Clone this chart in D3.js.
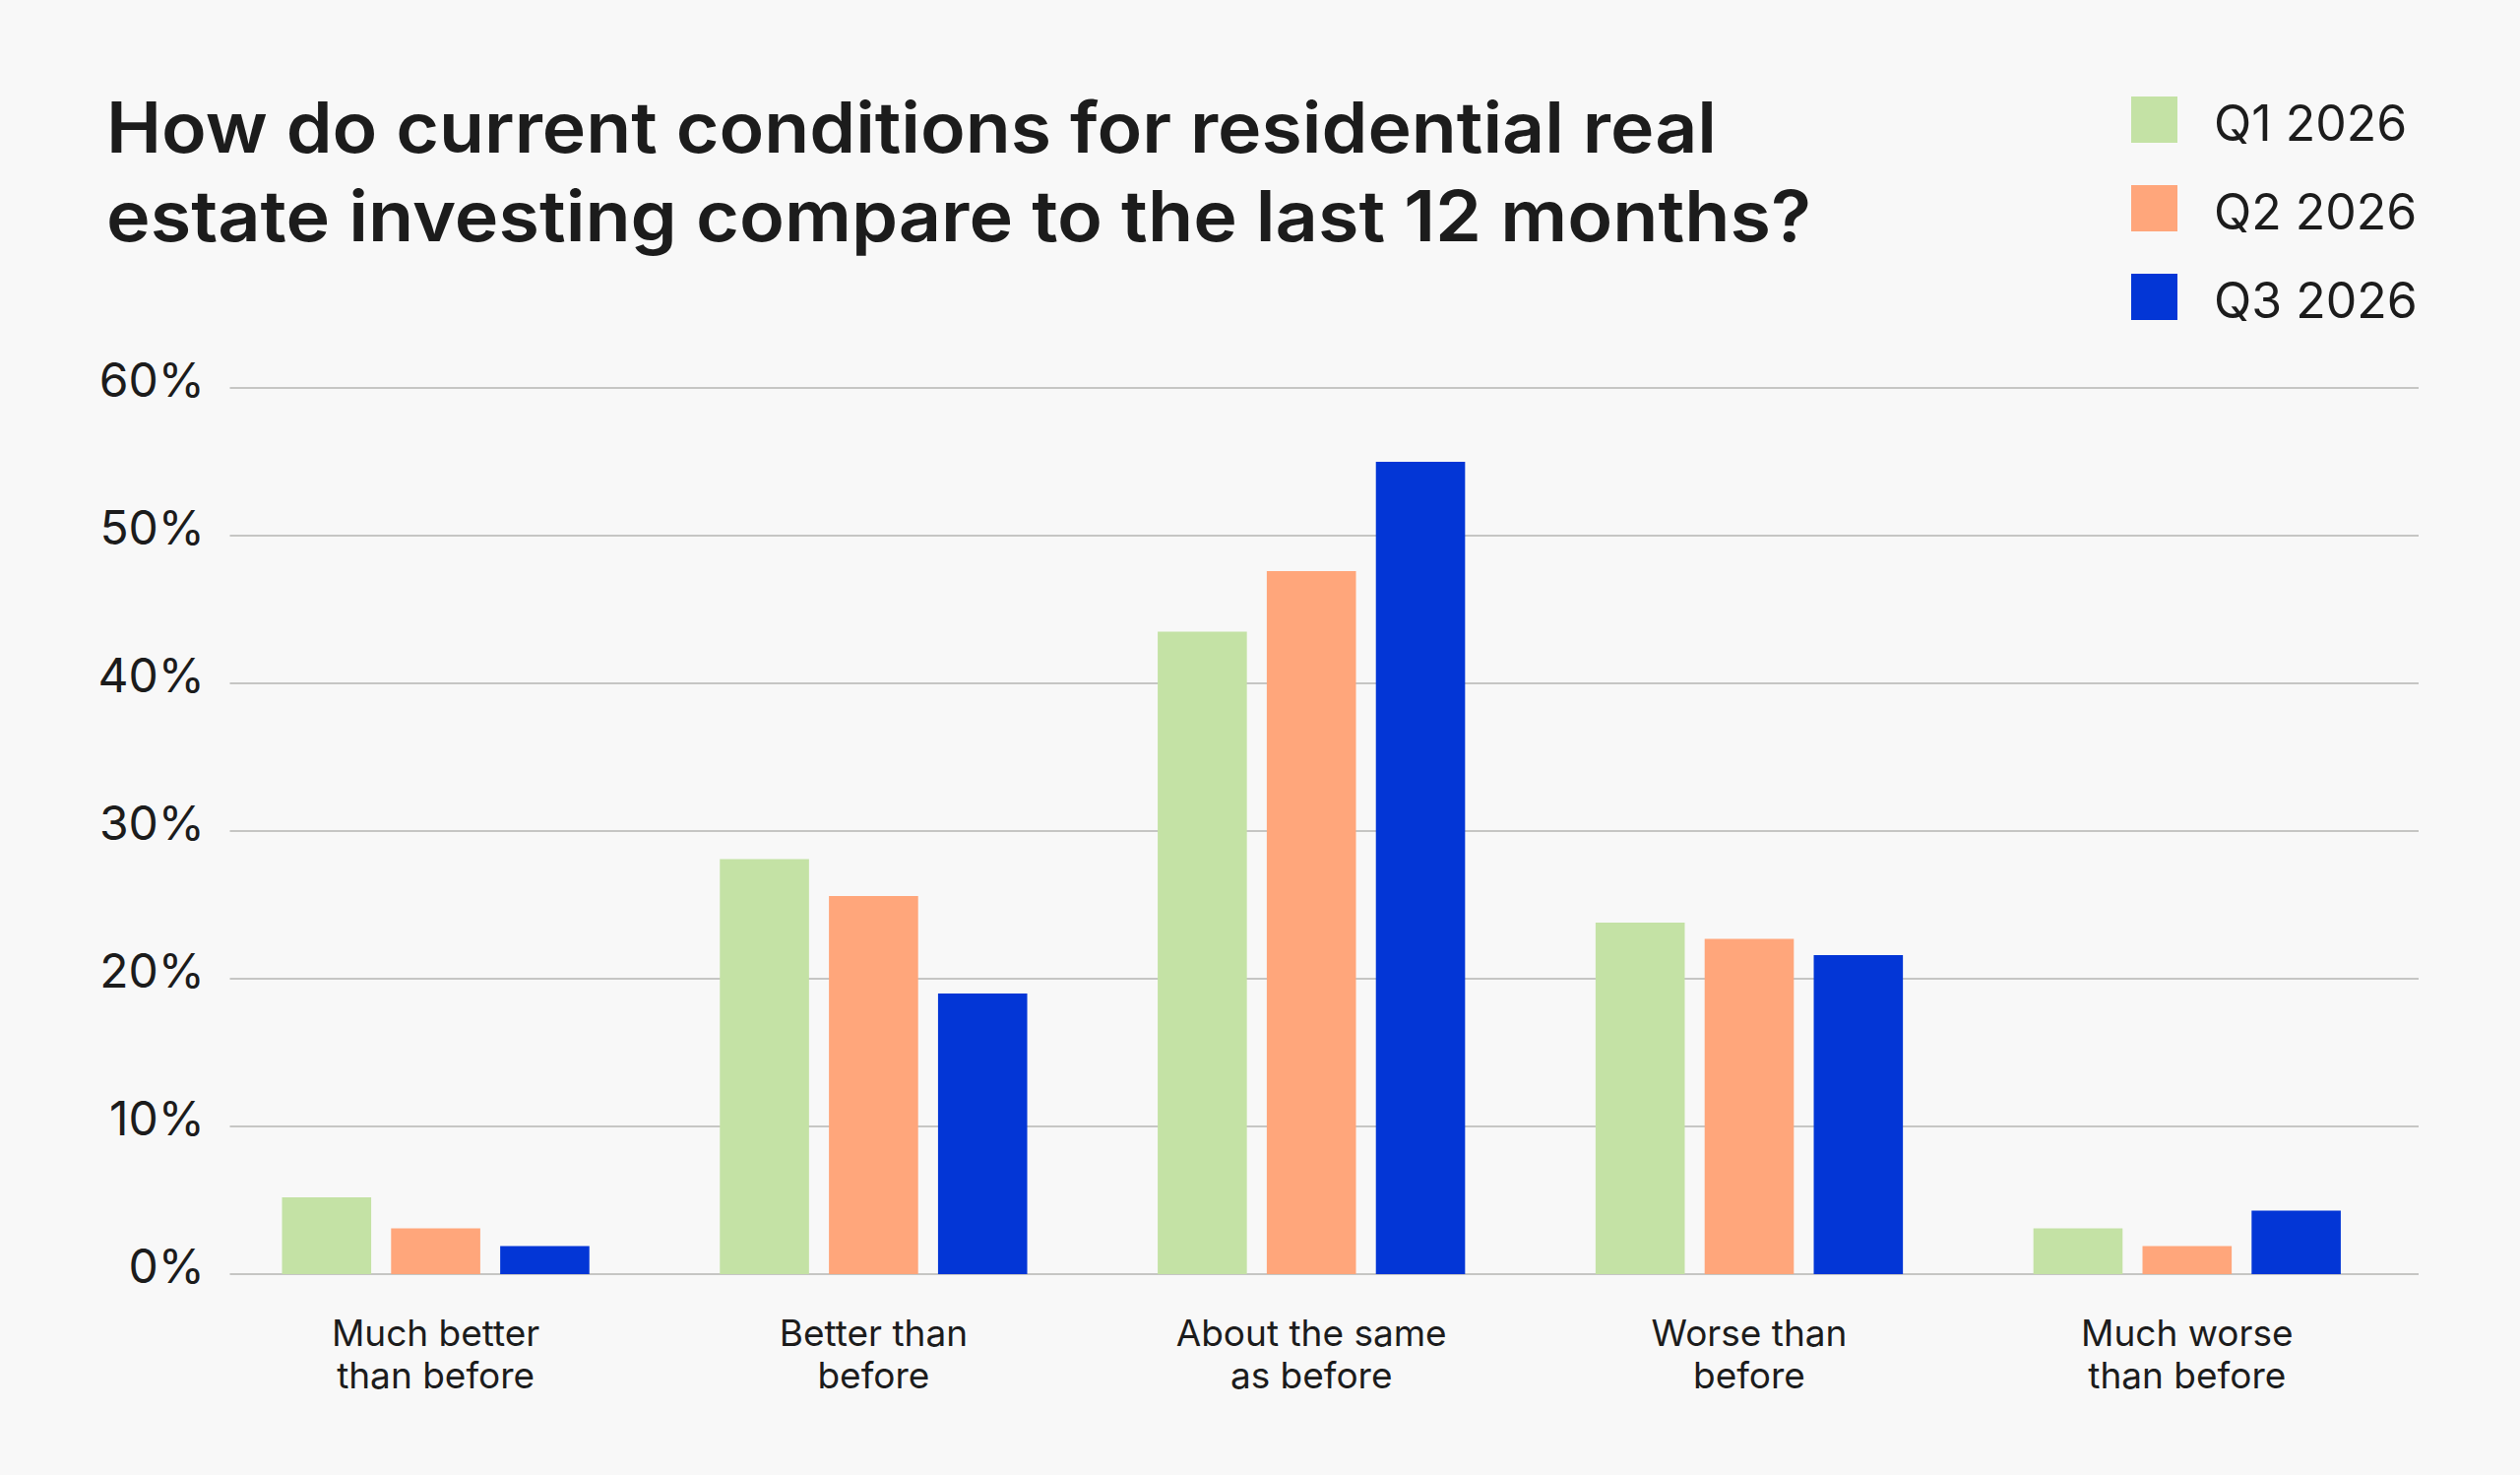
<!DOCTYPE html>
<html>
<head>
<meta charset="utf-8">
<script src="https://cdn.jsdelivr.net/npm/d3@7"></script>
<style>
  html, body { margin: 0; padding: 0; background: #f8f8f8; }
  svg { display: block; }
  text { font-family: Inter, "Noto Sans", sans-serif; fill: #1c1c1c; }
</style>
</head>
<body>
<svg id="chart" width="2560" height="1498"></svg>
<script>
// ---- data ----
const titleLines = ["How do current conditions for residential real", "estate investing compare to the last 12 months?"];
const categories = ["Much better\nthan before", "Better than\nbefore", "About the same\nas before", "Worse than\nbefore", "Much worse\nthan before"];
const seriesNames = ["Q1 2026", "Q2 2026", "Q3 2026"];
const seriesColors = ["#c4e2a5", "#ffa67b", "#0336d6"];
const q1Values = [5.2, 28.1, 43.5, 23.8, 3.1];
const q2Values = [3.1, 25.6, 47.6, 22.7, 1.9];
const q3Values = [1.9, 19.0, 55.0, 21.6, 4.3];
const yTicks = [0, 10, 20, 30, 40, 50, 60];

const seriesValues = [q1Values, q2Values, q3Values];

const svg = d3.select("#chart");
svg.append("rect").attr("width", 2560).attr("height", 1498).attr("fill", "#f8f8f8");

// ---- title ----
const titleWidths = [1636, 1732];
const title = svg.append("g");
titleLines.forEach((t, i) => {
  const el = title.append("text")
    .attr("x", 108)
    .attr("y", 155 + i * 90)
    .attr("font-size", 71)
    .attr("font-weight", 600)
    .text(t);
  el.attr("textLength", titleWidths[i]).attr("lengthAdjust", "spacingAndGlyphs");
});

// ---- scales ----
const plotLeft = 233.5, plotRight = 2457;
const y = d3.scaleLinear().domain([0, 60]).range([1294, 394]);
const x0 = d3.scaleBand().domain(categories).range([220.2, 2444.2]).paddingInner(0.298).paddingOuter(0.149);
const x1 = d3.scaleBand().domain(seriesNames).range([0, x0.bandwidth()]).paddingInner(0.1825).paddingOuter(0);
const color = d3.scaleOrdinal().domain(seriesNames).range(seriesColors);

// ---- gridlines + y labels ----
const grid = svg.append("g");
grid.selectAll("line").data(yTicks).join("line")
  .attr("x1", plotLeft).attr("x2", plotRight)
  .attr("y1", d => y(d)).attr("y2", d => y(d))
  .attr("stroke", "#c6c6c4").attr("stroke-width", 2);
grid.selectAll("text").data(yTicks).join("text")
  .attr("x", 208).attr("y", d => y(d) + 9)
  .attr("text-anchor", "end")
  .attr("font-size", 48)
  .text(d => d + "%");

// ---- bars ----
const groups = svg.append("g").selectAll("g").data(categories).join("g")
  .attr("transform", d => `translate(${x0(d)},0)`);
groups.selectAll("rect")
  .data((c, ci) => seriesNames.map((s, si) => ({ s, v: seriesValues[si][ci] })))
  .join("rect")
  .attr("x", d => x1(d.s))
  .attr("width", x1.bandwidth())
  .attr("y", d => y(d.v))
  .attr("height", d => y(0) - y(d.v))
  .attr("fill", d => color(d.s));

// ---- x labels ----
const xl = svg.append("g");
categories.forEach(c => {
  const t = xl.append("text")
    .attr("x", x0(c) + x0.bandwidth() / 2)
    .attr("y", 1367)
    .attr("text-anchor", "middle")
    .attr("font-size", 37);
  c.split("\n").forEach((line, i) => {
    t.append("tspan").attr("x", x0(c) + x0.bandwidth() / 2).attr("dy", i === 0 ? 0 : 42.5).text(line);
  });
});

// ---- legend ----
const legend = svg.append("g");
const ly = d3.scalePoint().domain(seriesNames).range([98, 278]);
seriesNames.forEach(s => {
  legend.append("rect").attr("x", 2165).attr("y", ly(s)).attr("width", 47).attr("height", 47).attr("fill", color(s));
  legend.append("text").attr("x", 2249).attr("y", ly(s) + 45).attr("font-size", 50).text(s);
});
</script>
</body>
</html>
